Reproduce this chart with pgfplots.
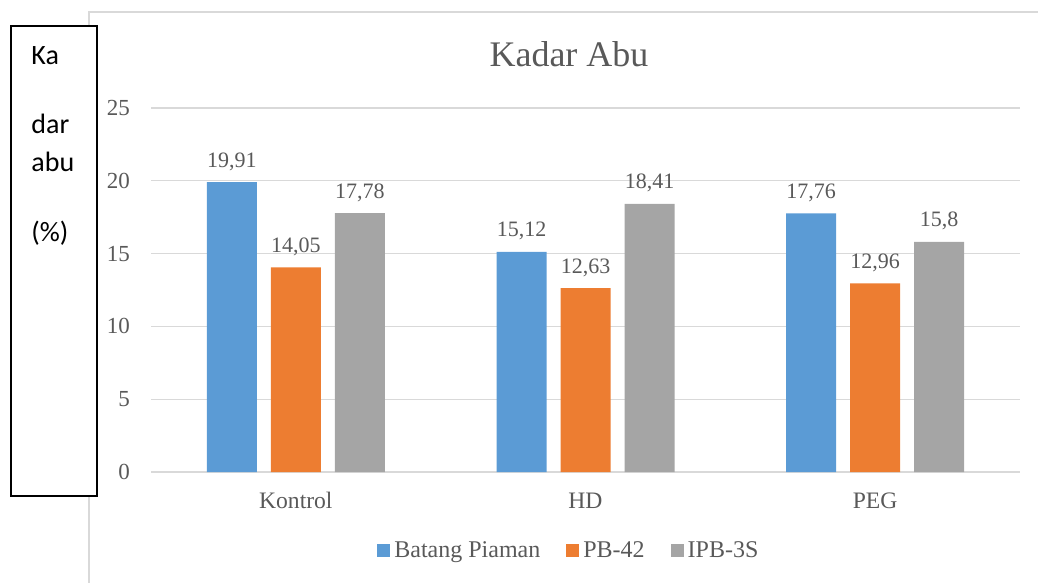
\documentclass[border=0pt]{standalone}
\usepackage{fontspec}
\setmainfont{Liberation Serif}
\newfontfamily\calibri{Carlito}
\usepackage{pgfplots}
\pgfplotsset{compat=1.18}
\definecolor{cblue}{HTML}{5B9BD5}
\definecolor{corange}{HTML}{ED7D31}
\definecolor{cgray}{HTML}{A5A5A5}
\definecolor{textgray}{HTML}{595959}
\definecolor{gridgray}{HTML}{D9D9D9}
\begin{document}
\begin{tikzpicture}
\useasboundingbox (0pt,0pt) rectangle (519pt,-291.5pt);
% chart area border
\draw[gridgray, line width=0.7pt] (44.5pt,-295pt) -- (44.5pt,-6pt) -- (525pt,-6pt);
% title
\node[anchor=base, inner sep=0pt, text=textgray, font=\fontsize{18}{21}\selectfont] at (284.5pt,-33.5pt) {Kadar Abu};
\begin{axis}[
  at={(75.5pt,-236pt)}, anchor=south west,
  scale only axis, width=434.5pt, height=182pt,
  ybar=7pt, bar width=25pt,
  xmin=-0.5, xmax=2.5, ymin=0, ymax=25,
  xtick=data, xticklabels={Kontrol,HD,PEG},
  ytick={0,5,10,15,20,25},
  axis lines=left, axis line style={draw=none},
  major tick length=0pt,
  ymajorgrids, grid style={gridgray, line width=0.65pt},
  /pgf/number format/assume math mode=true,
  /pgf/number format/use comma, /pgf/number format/fixed, /pgf/number format/precision=2,
  ticklabel style={text=textgray, font=\fontsize{11.5}{14}\selectfont},
  xticklabel style={anchor=base, yshift=-18pt, font=\fontsize{11.8}{14}\selectfont},
  yticklabel style={anchor=east, xshift=-7pt},
  nodes near coords,
  every node near coord/.append style={anchor=base, yshift=7.5pt, text=textgray, font=\fontsize{11}{13}\selectfont},
  legend style={at={(axis description cs:0.482,-0.217)}, anchor=center, draw=none, fill=none,
    legend columns=3, font=\fontsize{12}{14}\selectfont, text=textgray,
    /tikz/every even column/.append style={column sep=11pt}},
]
\addplot[fill=cblue, draw=none, legend image code/.code={\fill[cblue] (0pt,-3.25pt) rectangle (6.5pt,3.25pt);}] coordinates {(0,19.91) (1,15.12) (2,17.76)};
\addplot[fill=corange, draw=none, legend image code/.code={\fill[corange] (0pt,-3.25pt) rectangle (6.5pt,3.25pt);}] coordinates {(0,14.05) (1,12.63) (2,12.96)};
\addplot[fill=cgray, draw=none, legend image code/.code={\fill[cgray] (0pt,-3.25pt) rectangle (6.5pt,3.25pt);}] coordinates {(0,17.78) (1,18.41) (2,15.8)};
\legend{Batang Piaman, PB-42, IPB-3S}
\end{axis}
% text box
\draw[black, line width=0.7pt, fill=white] (5.5pt,-13pt) rectangle (48.5pt,-248pt);
\node[anchor=west, inner sep=0pt, font=\calibri\fontsize{14}{16}\selectfont] at (15.5pt,-28pt) {Ka};
\node[anchor=west, inner sep=0pt, font=\calibri\fontsize{14}{16}\selectfont] at (15.5pt,-62pt) {dar};
\node[anchor=west, inner sep=0pt, font=\calibri\fontsize{14}{16}\selectfont] at (15.5pt,-81pt) {abu};
\node[anchor=west, inner sep=0pt, font=\calibri\fontsize{14}{16}\selectfont] at (15.5pt,-116.5pt) {(\%)};
\end{tikzpicture}
\end{document}
